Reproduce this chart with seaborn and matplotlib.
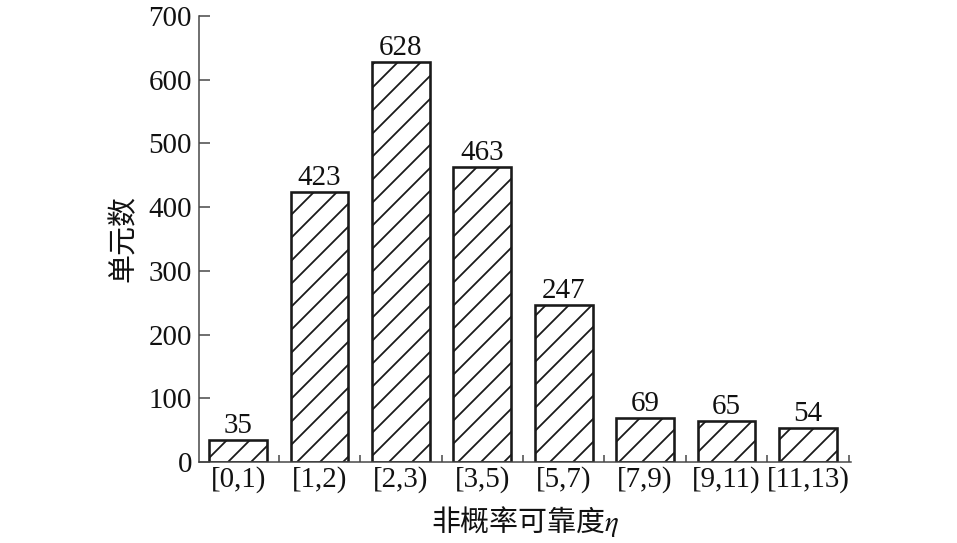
import matplotlib
matplotlib.use("Agg")
import matplotlib.pyplot as plt
import seaborn as sns
import pandas as pd
from matplotlib.ticker import FixedLocator

categories = ["[0,1)", "[1,2)", "[2,3)", "[3,5)", "[5,7)", "[7,9)", "[9,11)", "[11,13)"]
counts = [35, 423, 628, 463, 247, 69, 65, 54]
y_ticks = [0, 100, 200, 300, 400, 500, 600, 700]

DPI = 138
def pt(px):
    return px * 72.0 / DPI

sns.set_theme(style="white")
plt.rcParams['font.family'] = ['Liberation Serif', 'Noto Sans CJK SC', 'DejaVu Sans']
plt.rcParams['mathtext.fontset'] = 'stix'
plt.rcParams['hatch.linewidth'] = pt(1.8)

df = pd.DataFrame({"cat": categories, "count": counts})

fig = plt.figure(figsize=(957 / DPI, 543 / DPI), dpi=DPI)
ax = fig.add_axes([199 / 957, 1 - 462 / 543, (851 - 199) / 957, (462 - 16) / 543])

sns.barplot(data=df, x="cat", y="count", ax=ax, color="white", edgecolor="#1a1a1a",
            linewidth=pt(2.6), width=0.71, saturation=1)
for p in ax.patches:
    p.set_hatch('//')
    p.set_facecolor('white')

fs = pt(29)
ax.bar_label(ax.containers[0], labels=[str(v) for v in counts], padding=pt(1), fontsize=fs,
             color="#111111")

ax.set_xlim(-0.48, 7.53)
ax.set_ylim(0, 700)
ax.set_yticks(y_ticks)
ax.set_yticklabels([str(t) for t in y_ticks], fontsize=fs, color="#111111")
ax.set_xticks(range(len(categories)))
ax.set_xticklabels(categories, fontsize=fs, color="#111111")
ax.xaxis.set_minor_locator(FixedLocator([i + 0.5 for i in range(len(categories))]))

for s in ["top", "right"]:
    ax.spines[s].set_visible(False)
for s in ["left", "bottom"]:
    ax.spines[s].set_color("#444444")
    ax.spines[s].set_linewidth(pt(1.5))

ax.tick_params(axis='y', which='major', direction='in', length=pt(11), width=pt(1.5),
               color="#444444", pad=pt(7), left=True)
ax.tick_params(axis='x', which='major', length=0, pad=pt(4))
ax.tick_params(axis='x', which='minor', direction='in', length=pt(7), width=pt(1.5),
               color="#444444", bottom=True)

ax.set_ylabel("单元数", fontsize=fs, family=['Noto Sans CJK SC', 'DejaVu Sans'],
              color="#111111", labelpad=pt(10))
ax.set_xlabel("非概率可靠度$\\eta$", fontsize=fs, family=['Noto Sans CJK SC', 'DejaVu Sans'],
              color="#111111", labelpad=pt(11))
ax.grid(False)

fig.savefig("out.png", dpi=DPI)
